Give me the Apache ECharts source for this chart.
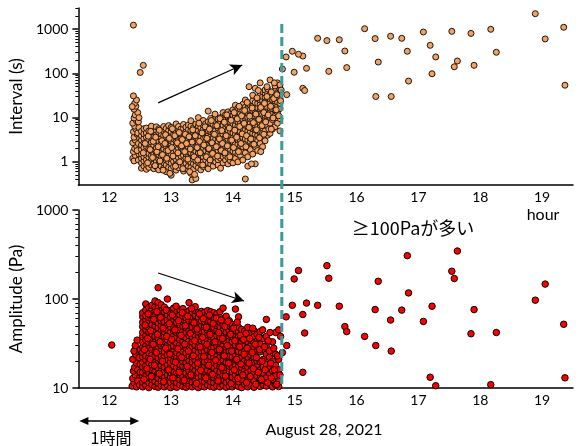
<!DOCTYPE html>
<html><head><meta charset="utf-8">
<script src="https://cdn.jsdelivr.net/npm/echarts@6/dist/echarts.min.js"></script>
<style>html,body{margin:0;padding:0;background:#fff}#c{width:580px;height:446px}</style>
</head><body><div id="c"></div><script>
const hourLabels = ['12','13','14','15','16','17','18','19'];
const intervalTicks = [1, 10, 100, 1000];
const intervalMinorTicks = [0.4,0.5,0.6,0.7,0.8,0.9,2,3,4,5,6,7,8,9,20,30,40,50,60,70,80,90,200,300,400,500,600,700,800,900,2000,3000];
const amplitudeTicks = [10, 100, 1000];
const amplitudeMinorTicks = [20,30,40,50,60,70,80,90,200,300,400,500,600,700,800,900];
const changeHour = 14.79;

// Interval (s): early spike column
const intervalSpike = [[12.38,1.2],[12.4,1.05],[12.42,1.4],[12.39,1.7],[12.41,2.0],[12.44,2.3],[12.38,2.7],[12.42,3.1],[12.4,3.6],[12.45,4.2],[12.39,4.8],[12.43,5.5],[12.41,6.4],[12.38,7.5],[12.44,8.5],[12.4,9.8],[12.42,11.5],[12.46,13],[12.4,15.5],[12.43,18],[12.41,21],[12.44,25],[12.39,31],[12.47,1.1],[12.48,1.5],[12.47,2.6],[12.49,3.4],[12.46,4.5],[12.48,6],[12.47,8],[12.45,1.8],[12.48,10],[12.39,1230],[12.5,105],[12.55,152],[12.37,17.7]];
// Interval (s): dense cloud, by time column
const intervalCloud = [
 [12.52,[0.72,0.95,1.2,1.5,1.9,2.4,3.1,3.9,4.9]],
 [12.56,[0.8,1.05,1.3,1.65,2.1,2.7,3.4,4.3,5.6]],
 [12.60,[0.68,0.88,1.12,1.42,1.8,2.25,2.85,3.6,4.5,5.8]],
 [12.64,[0.75,1.0,1.25,1.55,2.0,2.5,3.2,4.0,5.0]],
 [12.68,[0.85,1.1,1.38,1.75,2.2,2.8,3.5,4.4,5.3,6.4]],
 [12.72,[0.7,0.92,1.18,1.5,1.9,2.35,3.0,3.8,4.7]],
 [12.76,[0.78,1.0,1.28,1.62,2.05,2.6,3.3,4.1,5.2,6.2]],
 [12.80,[0.66,0.9,1.15,1.45,1.85,2.3,2.9,3.7,4.6,5.6]],
 [12.84,[0.8,1.05,1.32,1.68,2.12,2.7,3.4,4.3,5.4]],
 [12.88,[0.72,0.95,1.22,1.55,1.95,2.45,3.1,3.9,4.9,6.3]],
 [12.92,[0.6,0.85,1.1,1.4,1.78,2.25,2.85,3.6,4.5,5.7]],
 [12.96,[0.75,1.0,1.27,1.6,2.0,2.55,3.2,4.0,5.1,6.6]],
 [13.00,[0.5,0.7,0.92,1.18,1.5,1.9,2.4,3.0,3.8,4.8,6.0]],
 [13.04,[0.78,1.02,1.3,1.65,2.08,2.65,3.35,4.2,5.3]],
 [13.08,[0.65,0.88,1.13,1.43,1.82,2.3,2.9,3.7,4.7,5.9,7.2]],
 [13.12,[0.74,0.97,1.24,1.58,2.0,2.5,3.15,4.0,5.0,6.3]],
 [13.16,[0.82,1.06,1.35,1.7,2.15,2.7,3.45,4.35,5.5]],
 [13.20,[0.62,0.85,1.1,1.4,1.78,2.25,2.85,3.6,4.55,5.7,7.0]],
 [13.24,[0.7,0.93,1.2,1.52,1.92,2.42,3.05,3.85,4.85,6.1]],
 [13.28,[0.8,1.04,1.32,1.67,2.1,2.65,3.35,4.25,5.4,6.8]],
 [13.32,[0.55,0.75,0.98,1.25,1.6,2.02,2.55,3.2,4.05,5.1,6.4,8.5]],
 [13.34,[0.39]],
 [13.36,[0.68,0.9,1.15,1.46,1.85,2.35,2.95,3.75,4.7,5.9]],
 [13.40,[0.42,0.82,1.06,1.36,1.72,2.18,2.75,3.5,4.4,5.6,7.1]],
 [13.44,[0.74,0.97,1.25,1.58,2.0,2.52,3.2,4.0,5.1,6.5,10]],
 [13.48,[0.66,0.88,1.14,1.45,1.84,2.33,2.95,3.72,4.7,6.0,7.6]],
 [13.52,[0.78,1.02,1.3,1.65,2.1,2.65,3.35,4.25,5.4,6.8,8.6]],
 [13.56,[0.85,1.1,1.4,1.78,2.25,2.85,3.6,4.55,5.75,7.3]],
 [13.60,[0.7,0.95,1.22,1.55,1.96,2.48,3.15,4.0,5.05,6.4,8.1,14]],
 [13.64,[0.9,1.16,1.47,1.86,2.36,3.0,3.8,4.8,6.1,7.7,9.6]],
 [13.68,[0.8,1.05,1.34,1.7,2.15,2.72,3.45,4.35,5.5,7.0,8.8]],
 [13.72,[1.0,1.27,1.6,2.03,2.57,3.25,4.1,5.2,6.6,8.3,10.5]],
 [13.76,[0.85,1.12,1.42,1.8,2.28,2.9,3.65,4.6,5.85,7.4,9.3]],
 [13.80,[0.72,1.2,1.52,1.93,2.45,3.1,3.9,4.95,6.25,7.9,10]],
 [13.84,[0.95,1.3,1.65,2.08,2.63,3.33,4.2,5.3,6.7,8.5,10.8,13]],
 [13.88,[1.1,1.4,1.78,2.25,2.85,3.6,4.55,5.75,7.3,9.2,11.6]],
 [13.92,[0.9,1.25,1.6,2.02,2.55,3.22,4.07,5.15,6.5,8.2,10.4,13.5]],
 [13.96,[1.05,1.5,1.9,2.4,3.05,3.85,4.85,6.15,7.8,9.8,12.4]],
 [14.00,[0.95,1.3,1.75,2.2,2.8,3.55,4.5,5.7,7.2,9.1,11.5,15]],
 [14.04,[1.2,1.65,2.1,2.65,3.35,4.25,5.4,6.8,8.6,10.9,13.8,19]],
 [14.08,[1.0,1.5,1.95,2.5,3.15,4.0,5.05,6.4,8.1,10.2,12.9,16.5]],
 [14.12,[1.4,1.85,2.35,3.0,3.8,4.8,6.1,7.7,9.7,12.3,15.5]],
 [14.16,[1.1,1.7,2.2,2.8,3.55,4.5,5.7,7.2,9.1,11.5,14.6,20]],
 [14.20,[0.41,1.6,2.6,3.3,4.2,5.3,6.7,8.5,10.7,13.6,17.2,25]],
 [14.24,[0.8,1.3,2.1,3.1,3.9,5.0,6.3,8.0,10.1,12.8,16.2,21]],
 [14.28,[1.9,2.9,3.7,4.7,5.9,7.5,9.5,12,15.2,19.3]],
 [14.32,[1.5,2.5,3.5,4.4,5.6,7.1,9.0,11.4,14.4,18.3,24,32]],
 [14.36,[0.9,2.2,3.2,4.2,5.3,6.7,8.5,10.8,13.7,17.3,22,46]],
 [14.40,[1.8,3.0,4.0,5.1,6.4,8.1,10.3,13,16.5,21,27]],
 [14.44,[2.6,3.8,4.8,6.1,7.7,9.8,12.4,15.7,20,25,32,61]],
 [14.48,[2.2,4.5,5.8,7.3,9.3,11.8,15,19,24,30,38]],
 [14.52,[3.0,5.0,7.0,8.8,11.2,14.2,18,23,29,36,42]],
 [14.56,[4.0,6.5,8.4,10.7,13.6,17.2,22,28,35,45]],
 [14.60,[4.4,7.5,10,12.9,16.4,21,26.5,33.6,71]],
 [14.64,[5.5,9,12.3,15.6,19.8,25,31.8,38]],
 [14.68,[6.2,11,14.8,18.8,23.8,30.2,40,52]],
 [14.72,[7.5,13,17.8,22.6,28.6,36.3,61]],
 [14.76,[5.0,9.5,16,21,27,34,44,55]]
];
// Interval (s): additional scattered readings inside the cloud
const intervalCloudExtra = [[12.55,1.6],[12.58,2.6],[12.62,0.95],[12.63,3.8],[12.66,1.9],[12.67,4.9],[12.7,1.25],[12.71,2.9],[12.74,0.82],[12.75,3.6],[12.77,1.7],[12.79,2.2],[12.81,5.2],[12.82,1.05],[12.85,3.0],[12.86,1.45],[12.87,0.65],[12.9,2.6],[12.91,4.1],[12.93,1.2],[12.95,1.8],[12.97,3.4],[12.98,0.55],[13.01,2.1],[13.02,5.6],[13.03,1.35],[13.06,3.9],[13.07,0.8],[13.1,2.7],[13.11,1.6],[13.13,4.6],[13.14,1.0],[13.17,2.3],[13.18,3.2],[13.19,0.7],[13.22,1.7],[13.23,4.2],[13.25,2.6],[13.27,1.15],[13.29,3.7],[13.3,0.6],[13.31,1.95],[13.34,2.8],[13.35,5.3],[13.37,1.3],[13.38,0.52],[13.39,3.9],[13.42,2.1],[13.43,1.1],[13.45,7.5],[13.46,2.9],[13.47,1.6],[13.5,4.5],[13.51,0.85],[13.53,2.4],[13.55,6.2],[13.57,1.3],[13.58,3.4],[13.61,2.0],[13.62,5.5],[13.63,1.1],[13.65,8.6],[13.66,2.7],[13.67,1.55],[13.7,4.2],[13.71,12],[13.73,2.2],[13.74,6.6],[13.75,1.35],[13.78,3.3],[13.79,9.5],[13.81,1.8],[13.82,5.1],[13.83,2.6],[13.86,7.9],[13.87,1.6],[13.89,3.9],[13.9,11.5],[13.91,2.3],[13.94,5.8],[13.95,1.3],[13.97,8.7],[13.98,3.1],[14.01,2.1],[14.02,13],[14.03,5.2],[14.06,3.6],[14.07,9.4],[14.09,1.7],[14.1,18],[14.11,6.3],[14.13,2.6],[14.14,11],[14.15,4.3],[14.18,7.4],[14.19,14.5],[14.21,2.2],[14.22,3.9],[14.23,22],[14.26,6],[14.27,10.8],[14.29,3.3],[14.31,16.5],[14.33,7.7],[14.34,2.5],[14.37,12],[14.38,5.3],[14.39,28],[14.42,9.1],[14.43,3.5],[14.45,17],[14.47,6.6],[14.5,13],[14.51,21],[14.53,8],[14.55,30],[14.57,11.5],[14.58,5.5],[14.61,18],[14.62,38],[14.65,9.8],[14.66,27],[14.7,15],[14.71,33],[14.74,11],[14.77,24],[14.78,42],[14.5,4.2],[14.55,50],[14.67,61],[14.41,41],[14.3,0.9],[14.45,1.7],[14.62,5.5],[14.26,50]];
// Interval (s): after the change
const intervalLate = [[18.89,2230],[19.35,1100],[19.05,600],[19.37,54],[18.17,990],[18.26,300],[17.85,800],[17.9,152],[17.54,890],[17.63,190],[17.58,141],[17.08,860],[17.19,430],[17.28,235],[17.22,98],[16.84,67],[16.82,316],[16.73,620],[16.55,690],[16.56,30],[16.31,30],[16.3,610],[16.35,180],[16.13,1020],[15.84,135],[15.81,320],[15.72,575],[15.55,111],[15.52,550],[15.37,620],[15.19,130],[15.13,46],[15.16,41],[15.13,246],[15.06,270],[14.96,316],[14.99,106],[14.86,235],[14.87,33],[14.8,125]];

// Amplitude (Pa)
const amplitudeSpike = [[12.37,10.5],[12.4,11.5],[12.38,12.8],[12.42,14],[12.39,15.5],[12.41,17],[12.44,19],[12.38,21],[12.43,23.5],[12.4,26],[12.42,30],[12.45,34.5],[12.47,11],[12.49,13],[12.46,16],[12.5,18.5],[12.48,22],[12.5,27],[12.46,12],[12.44,10.3],[12.49,10.8],[12.5,15],[12.04,30.4]];
const amplitudeCloud = [
 [12.54,[10.3,11.6,13.4,15.0,17.3,19.5,22.4,25.1,29.0,32.6,37.8,42.1,48.9,54.6,63.2,70]],
 [12.59,[10.7,12.2,13.7,15.9,17.8,20.6,23.0,26.8,29.7,34.5,38.5,44.9,49.8,58.1,64.7,75,88]],
 [12.64,[10.1,11.5,13.1,14.8,17.0,19.2,22.1,24.9,28.6,32.4,37.1,42.3,47.6,55.4,62.0,71.5,80.5]],
 [12.69,[10.9,12.4,14.1,16.1,18.3,20.9,23.7,27.0,30.8,35.0,39.8,45.4,51.6,58.8,66.8,76,85]],
 [12.74,[10.4,11.9,13.5,15.4,17.5,19.9,22.7,25.8,29.4,33.5,38.1,43.4,49.4,56.2,64,72.8,82,95]],
 [12.79,[10.2,11.3,12.9,14.7,16.8,19.1,21.8,24.7,28.2,32.1,36.5,41.6,47.3,53.9,61.3,69.8,79,91,134]],
 [12.84,[10.6,12.0,13.8,15.6,17.9,20.2,23.1,26.2,30.0,33.9,38.8,43.9,50.2,56.9,65,73.9,86]],
 [12.89,[10.3,11.7,13.2,15.2,17.2,19.6,22.5,25.5,29.1,33.2,37.6,42.9,48.8,55.5,63.3,72,81]],
 [12.94,[10.8,12.3,14.0,15.9,18.2,20.7,23.4,26.7,30.5,34.6,39.5,44.8,51.1,58.0,66.2,75,100]],
 [12.99,[10.1,11.6,13.3,14.9,17.1,19.4,22.2,25.2,28.8,32.7,37.3,42.4,48.3,54.9,62.6,71]],
 [13.04,[10.5,12.0,13.6,15.5,17.7,20.1,22.9,26.0,29.6,33.8,38.4,43.7,49.7,56.6,64.4,73.5,79]],
 [13.09,[10.2,11.5,13.0,14.9,16.9,19.3,21.9,25.0,28.4,32.3,36.8,41.9,47.7,54.3,61.8,70.4]],
 [13.14,[10.9,12.4,14.1,16.0,18.3,20.8,23.7,26.9,30.7,34.9,39.7,45.2,51.5,58.6,66.7,76]],
 [13.19,[10.4,11.9,13.5,15.3,17.5,19.9,22.6,25.8,29.3,33.4,38.0,43.3,49.2,56.0,63.8,72.6,78]],
 [13.24,[10.2,11.4,13.0,14.8,16.9,19.2,21.9,24.9,28.3,32.2,36.7,41.8,47.6,54.1,61.6,70.1]],
 [13.29,[10.6,12.1,13.8,15.7,17.8,20.3,23.1,26.3,29.9,34.1,38.8,44.1,50.2,57.2,65.1,74,91]],
 [13.34,[10.3,11.7,13.3,15.1,17.2,19.6,22.3,25.4,28.9,32.9,37.4,42.6,48.5,55.2,62.8,71]],
 [13.39,[10.7,12.2,13.9,15.8,18.0,20.5,23.3,26.5,30.2,34.4,39.1,44.5,50.7,57.7,65.6,74,82]],
 [13.44,[10.1,11.6,13.2,15.0,17.1,19.5,22.2,25.3,28.8,32.8,37.3,42.5,48.4,55.0,62.6,70.5]],
 [13.49,[10.5,12.0,13.6,15.5,17.6,20.1,22.8,26.0,29.6,33.7,38.3,43.6,49.6,56.5,64.3,72.5]],
 [13.54,[10.3,11.8,13.4,15.2,17.3,19.7,22.4,25.5,29.0,33.0,37.6,42.8,48.7,55.4,63.0,71]],
 [13.59,[10.8,12.3,14.0,15.9,18.1,20.6,23.5,26.7,30.4,34.6,39.4,44.8,51.0,58.0,66.0,74]],
 [13.64,[10.4,11.9,13.4,15.3,17.4,19.8,22.6,25.7,29.2,33.3,37.9,43.1,49.0,55.8,63.5,72]],
 [13.69,[10.2,11.5,13.1,14.9,17.0,19.3,22.0,25.0,28.5,32.4,36.9,42.0,47.8,54.4,61.9,70]],
 [13.74,[10.6,12.1,13.8,15.7,17.9,20.4,23.2,26.4,30.0,34.2,38.9,44.3,50.4,57.4,65.0,68]],
 [13.79,[10.3,11.7,13.3,15.1,17.2,19.6,22.3,25.4,28.9,32.9,37.4,42.6,48.5,55.0,62.0,72]],
 [13.84,[10.7,12.2,13.9,15.8,18.0,20.5,23.3,26.5,30.2,34.4,39.1,44.5,50.7,58.0,79]],
 [13.89,[10.2,11.6,13.2,15.0,17.1,19.5,22.2,25.3,28.8,32.8,37.3,42.5,48.4,55.0,64]],
 [13.94,[10.5,12.0,13.6,15.5,17.6,20.1,22.8,26.0,29.6,33.7,38.3,43.6,49.6,57]],
 [13.99,[10.3,11.7,13.3,15.2,17.3,19.7,22.4,25.5,29.0,33.0,37.6,42.8,46.0,52]],
 [14.04,[10.8,12.3,14.0,15.9,18.1,20.6,23.5,26.7,30.4,34.6,39.4,44.0,50,77]],
 [14.09,[10.4,11.8,13.4,15.3,17.4,19.8,22.6,25.7,29.2,33.3,37.9,43.0,48,63]],
 [14.14,[10.1,12.5,14.9,17.0,19.3,22.0,25.0,28.5,32.4,36.9,42.0,45.5]],
 [14.19,[11.0,13.8,15.7,17.9,20.4,23.2,26.4,30.0,34.2,38.9,44.0]],
 [14.24,[10.3,12.2,15.1,17.2,19.6,22.3,25.4,28.9,32.9,37.4,43.0,48]],
 [14.29,[10.7,13.9,15.8,18.0,23.3,26.5,30.2,34.4,41.0]],
 [14.34,[10.2,12.0,15.0,19.5,22.2,28.8,32.8,38.0,44]],
 [14.39,[11.0,13.6,17.6,20.1,26.0,29.6,33.7,40]],
 [14.44,[10.4,12.8,16.0,19.7,25.5,31,43]],
 [14.49,[10.8,12.2,14.8,17.3,21.0,27,36]],
 [14.54,[10.5,13,18.5,24,30,38,59]],
 [14.59,[11.2,14.5,16.5,22,26]],
 [14.64,[10.3,12.4,15.6,20,33]],
 [14.69,[10.9,13.8,18,24,42]],
 [14.74,[10.4,12,16,21,45]]
];
// Amplitude (Pa): additional scattered readings inside the cloud
const amplitudeCloudExtra = [[12.56,12.5],[12.57,27],[12.58,51],[12.61,16.5],[12.62,36],[12.63,68],[12.66,21],[12.67,44],[12.68,13.5],[12.71,31],[12.72,59],[12.73,18],[12.76,25],[12.77,72],[12.78,40],[12.81,14.5],[12.82,33],[12.83,62],[12.86,20],[12.87,47],[12.88,11.8],[12.91,28],[12.92,75],[12.93,38],[12.96,16],[12.97,53],[12.98,24],[13.01,35],[13.02,66],[13.03,13],[13.06,45],[13.07,19.5],[13.08,83],[13.11,27.5],[13.12,57],[13.13,15],[13.16,39],[13.17,22],[13.18,70],[13.21,12.2],[13.22,31],[13.23,50],[13.26,17.5],[13.27,64],[13.28,26],[13.31,41],[13.32,14],[13.33,78],[13.36,23],[13.37,54],[13.38,34],[13.41,11.3],[13.42,46],[13.43,19],[13.46,68],[13.47,29],[13.48,15.8],[13.51,37],[13.52,60],[13.53,22.5],[13.56,13],[13.57,48],[13.58,31],[13.61,18],[13.62,66],[13.63,40],[13.66,25],[13.67,14.2],[13.68,53],[13.71,33],[13.72,20.5],[13.73,61],[13.76,12],[13.77,42],[13.78,27],[13.81,58],[13.82,17],[13.83,36],[13.86,23],[13.87,49],[13.88,13.6],[13.91,30],[13.92,56],[13.93,19],[13.96,40],[13.97,11.2],[13.98,26],[14.01,47],[14.02,16],[14.03,34],[14.06,21],[14.07,55],[14.08,12.8],[14.11,29],[14.12,39],[14.13,18.5],[14.16,14],[14.17,35],[14.18,24],[14.21,41],[14.22,11.5],[14.23,28],[14.26,19],[14.27,36],[14.28,13.5],[14.31,25],[14.32,47],[14.33,16.5],[14.36,31],[14.37,11],[14.38,22],[14.41,15],[14.42,37],[14.43,27],[14.46,12.5],[14.47,20],[14.48,45],[14.51,29],[14.52,16],[14.56,11.5],[14.57,34],[14.61,19],[14.62,13],[14.66,28],[14.67,16],[14.71,11],[14.72,23],[14.76,14],[14.77,38],[14.6,42]];
const amplitudeLate = [[17.63,346],[16.82,307],[15.52,237],[15.06,209],[17.54,205],[14.99,168],[15.55,171],[17.58,170],[16.35,158],[19.05,147],[16.84,117],[18.89,97],[14.96,85],[15.37,85],[15.19,90],[15.72,83],[17.22,83],[16.3,76],[16.73,75],[17.9,76],[14.86,63],[15.13,67],[16.55,58],[17.08,56],[19.35,52],[15.81,49],[15.84,43],[15.16,41.5],[17.85,40.7],[18.26,42],[16.13,38],[16.31,30],[14.87,30],[14.8,25],[16.56,26],[15.13,15],[17.19,13.2],[17.28,10.6],[18.17,10.9],[19.37,13]];

// arrows (annotation, in data coordinates)
const intervalArrow = [[12.79, 21.5], [14.15, 155]];
const amplitudeArrow = [[12.79, 196], [14.18, 95]];

function flatten(cols) { const out = []; cols.forEach(([x, ys]) => ys.forEach(y => out.push([x, y]))); return out; }

const FONT = 'Lato, "Liberation Sans", sans-serif';
const chart = echarts.init(document.getElementById('c'), null, {renderer: 'canvas'});

function catAxis(gi) {
  return {type: 'category', gridIndex: gi, data: hourLabels, boundaryGap: true, position: 'bottom',
    axisLine: {lineStyle: {color: '#000', width: 1.5}},
    axisTick: {interval: 0, length: 6, lineStyle: {color: '#000', width: 1.5}},
    axisLabel: {interval: 0, color: '#000', fontSize: 14, fontFamily: FONT, margin: 5},
    splitLine: {show: false}};
}
function valAxis(gi) { return {type: 'value', gridIndex: gi, min: 11.5, max: 19.5, show: false}; }
function logAxis(gi, min, max, ticks, name) {
  return {type: 'log', logBase: 10, gridIndex: gi, min: min, max: max, position: 'left',
    name: name, nameLocation: 'middle', nameGap: 42,
    nameTextStyle: {fontSize: 17, color: '#000', fontFamily: FONT},
    axisLine: {show: true, lineStyle: {color: '#000', width: 1.5}},
    axisTick: {show: true, length: 6, customValues: ticks, lineStyle: {color: '#000', width: 1.5}},
    axisLabel: {customValues: ticks, color: '#000', fontSize: 14, fontFamily: FONT, margin: 10, formatter: v => String(Math.round(v))},
    splitLine: {show: false}, minorTick: {show: false}};
}
function minorAxis(gi, min, max, ticks) {
  return {type: 'log', logBase: 10, gridIndex: gi, min: min, max: max, position: 'left',
    axisLine: {show: false}, axisLabel: {show: false}, splitLine: {show: false},
    axisTick: {show: true, length: 3, customValues: ticks, lineStyle: {color: '#000', width: 1}}};
}
function arrowLine(pts) {
  return {silent: true, symbol: ['none', 'arrow'], symbolSize: [9, 12], animation: false,
    lineStyle: {color: '#000', width: 1.2, type: 'solid'}, label: {show: false},
    emphasis: {disabled: true},
    data: [[{coord: pts[0]}, {coord: pts[1]}]]};
}

chart.setOption({
  animation: false,
  backgroundColor: '#fff',
  grid: [
    {left: 77, top: 8, width: 496, height: 177},
    {left: 77, top: 210, width: 496, height: 178}
  ],
  xAxis: [catAxis(0), valAxis(0), catAxis(1), valAxis(1)],
  yAxis: [
    logAxis(0, 0.3, 3000, intervalTicks, 'Interval (s)'),
    minorAxis(0, 0.3, 3000, intervalMinorTicks),
    logAxis(1, 10, 1000, amplitudeTicks, 'Amplitude (Pa)'),
    minorAxis(1, 10, 1000, amplitudeMinorTicks)
  ],
  series: [
    {type: 'scatter', xAxisIndex: 1, yAxisIndex: 0, symbolSize: 6,
      data: intervalSpike.concat(flatten(intervalCloud), intervalCloudExtra, intervalLate),
      itemStyle: {color: '#F4A261', borderColor: '#1e140c', borderWidth: 1, opacity: 1},
      markLine: arrowLine(intervalArrow)},
    {type: 'scatter', xAxisIndex: 3, yAxisIndex: 2, symbolSize: 6.5,
      data: amplitudeSpike.concat(flatten(amplitudeCloud), amplitudeCloudExtra, amplitudeLate),
      itemStyle: {color: '#FF0000', borderColor: '#000', borderWidth: 1, opacity: 1},
      markLine: arrowLine(amplitudeArrow)}
  ]
});

const xLine = chart.convertToPixel({xAxisIndex: 1}, changeHour);
const yTopLine = chart.convertToPixel({yAxisIndex: 0}, 1300);
const yBotLine = chart.convertToPixel({yAxisIndex: 2}, 10);
const xH0 = chart.convertToPixel({xAxisIndex: 3}, 11.5);
const xH1 = chart.convertToPixel({xAxisIndex: 3}, 12.5);
const arrowY = 421;
const txt = (x, y, s, size, fam) => ({type: 'text', x: x, y: y, style: {text: s, fill: '#000', fontSize: size, fontFamily: fam || FONT, align: 'center', verticalAlign: 'middle'}});

chart.setOption({
  graphic: [
    {type: 'line', shape: {x1: xLine, y1: yTopLine, x2: xLine, y2: yBotLine}, style: {stroke: '#3a9b9b', lineWidth: 3, lineDash: [9, 4]}, z: 10},
    txt(543, 215, 'hour', 16),
    txt(413, 228, '≥100Paが多い', 18, '"Noto Sans CJK JP", sans-serif'),
    txt(324, 430, 'August 28, 2021', 16),
    txt(111, 438, '1時間', 16, '"Noto Sans CJK JP", sans-serif'),
    {type: 'line', shape: {x1: xH0 + 6, y1: arrowY, x2: xH1 - 6, y2: arrowY}, style: {stroke: '#000', lineWidth: 1.5}},
    {type: 'polygon', shape: {points: [[xH0 + 1, arrowY], [xH0 + 10, arrowY - 4], [xH0 + 10, arrowY + 4]]}, style: {fill: '#000'}},
    {type: 'polygon', shape: {points: [[xH1 - 1, arrowY], [xH1 - 10, arrowY - 4], [xH1 - 10, arrowY + 4]]}, style: {fill: '#000'}}
  ]
});
</script></body></html>
